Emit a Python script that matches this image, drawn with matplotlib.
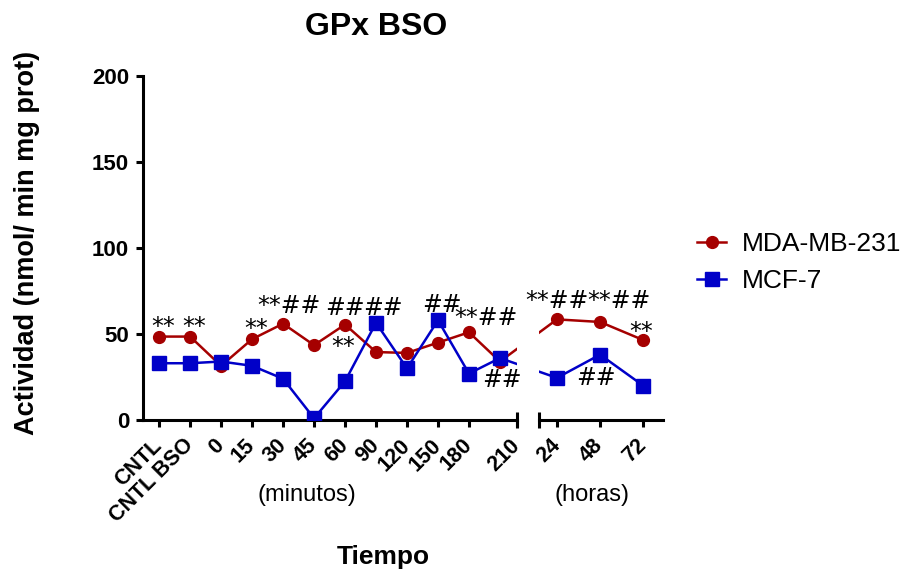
import matplotlib
matplotlib.use('Agg')
import matplotlib.pyplot as plt
import numpy as np

plt.rcParams['font.family'] = ['Liberation Sans', 'DejaVu Sans']

# minutes part (last point is the 210 one, its label sits at the axis end)
min_labels = ['CNTL', 'CNTL BSO', '0', '15', '30', '45', '60', '90', '120', '150', '180', '210']
mda_min = [48.5, 48.5, 31.5, 47, 56, 43.5, 55.5, 39.5, 39, 45, 51, 34]
mcf_min = [33, 33, 34, 31.5, 24, 1, 22.5, 56.5, 30, 58, 27, 36]

# hours part
hours = [24, 48, 72]
mda_h = [58.5, 57, 46.5]
mcf_h = [24.5, 38, 20]

# significance marks: (x position in category units, y, text)
marks = [
    (0.13, 50.0, '**'), (1.13, 50.0, '**'), (3.13, 48.8, '**'),
    (4.19, 62.2, '**##'), (5.98, 61.0, '##'), (7.22, 61.0, '##'),
    (5.94, 38.4, '**'), (9.13, 62.8, '##'), (10.55, 55.2, '**##'),
    (11.06, 19.2, '##'), (12.84, 65.1, '**##'), (14.84, 65.1, '**##'),
    (15.55, 47.1, '**'), (14.10, 20.3, '##'),
]

RED = '#A50000'
BLUE = '#0000C8'
W, H = 901, 572


def hour_pos(h):
    # right panel: 24 h sits at 12.84 units, 24 h ~ 1.39 units
    return 12.84 + (np.asarray(h, dtype=float) - 24) * 1.39 / 24


x_min = np.arange(len(min_labels))
x_all = np.concatenate([x_min, hour_pos(hours)])
mda = np.concatenate([mda_min, mda_h])
mcf = np.concatenate([mcf_min, mcf_h])

fig = plt.figure(figsize=(W / 100, H / 100), dpi=100)
y0, y1 = 1 - 420 / H, (420 - 76) / H
ax1 = fig.add_axes([143 / W, y0, (517 - 143) / W, y1])
ax2 = fig.add_axes([539 / W, y0, (663 - 539) / W, y1])
ax1.set_zorder(2)  # so the marks over the hours panel stay on top

for ax in (ax1, ax2):
    ax.plot(x_all, mda, '-o', color=RED, lw=1.8, ms=8.5, zorder=3, label='MDA-MB-231')
    ax.plot(x_all, mcf, '-s', color=BLUE, lw=1.8, ms=9.8, zorder=3, label='MCF-7')
    ax.set_ylim(0, 200)
    for s in ('top', 'right'):
        ax.spines[s].set_visible(False)
    ax.spines['bottom'].set_linewidth(2.2)
    ax.spines['left'].set_linewidth(2.2)
    ax.tick_params(length=5, width=2.2)
    ax.tick_params(axis='x', pad=11)
    ax.tick_params(axis='y', pad=5)

ax1.set_xlim(-0.52, 11.55)
ax2.set_xlim(12.26, 16.26)

ax1.set_xticks(list(x_min[:-1]) + [11.55])
ax1.set_xticklabels(min_labels, rotation=45, ha='right', va='center',
                    rotation_mode='anchor', fontsize=15.5, fontweight='bold')
ax1.set_yticks([0, 50, 100, 150, 200])
ax1.set_yticklabels(['0', '50', '100', '150', '200'], fontsize=16, fontweight='bold')

ax2.set_xticks(hour_pos(hours))
ax2.set_xticklabels([str(h) for h in hours], rotation=45, ha='right', va='center',
                    rotation_mode='anchor', fontsize=15.5, fontweight='bold')
ax2.spines['left'].set_visible(False)
ax2.set_yticks([])

# break caps
ax1.plot([1], [0], marker='|', ms=12, mew=2.2, color='k', transform=ax1.transAxes, clip_on=False)
ax2.plot([0], [0], marker='|', ms=12, mew=2.2, color='k', transform=ax2.transAxes, clip_on=False)

for x, y, t in marks:
    ax1.text(x, y, t, ha='center', va='baseline', fontsize=17, family='DejaVu Sans')

fig.text(376 / W, 1 - 27 / H, 'GPx BSO', ha='center', va='center', fontsize=23, fontweight='bold')
fig.text(27 / W, 1 - 243 / H, 'Actividad (nmol/ min mg prot)', rotation=90,
         ha='center', va='center', fontsize=19.5, fontweight='bold')
fig.text(383 / W, 1 - 557 / H, 'Tiempo', ha='center', va='center', fontsize=19, fontweight='bold')
fig.text(307 / W, 1 - 495 / H, '(minutos)', ha='center', va='center', fontsize=17)
fig.text(592 / W, 1 - 495 / H, '(horas)', ha='center', va='center', fontsize=17)

ax1.legend(loc='center left', bbox_to_anchor=(697 / W, 1 - 262.5 / H),
           bbox_transform=fig.transFigure, frameon=False, fontsize=19,
           handlelength=1.1, handletextpad=0.6, labelspacing=0.5,
           borderpad=0, borderaxespad=0)

fig.savefig('out.png', dpi=100)
